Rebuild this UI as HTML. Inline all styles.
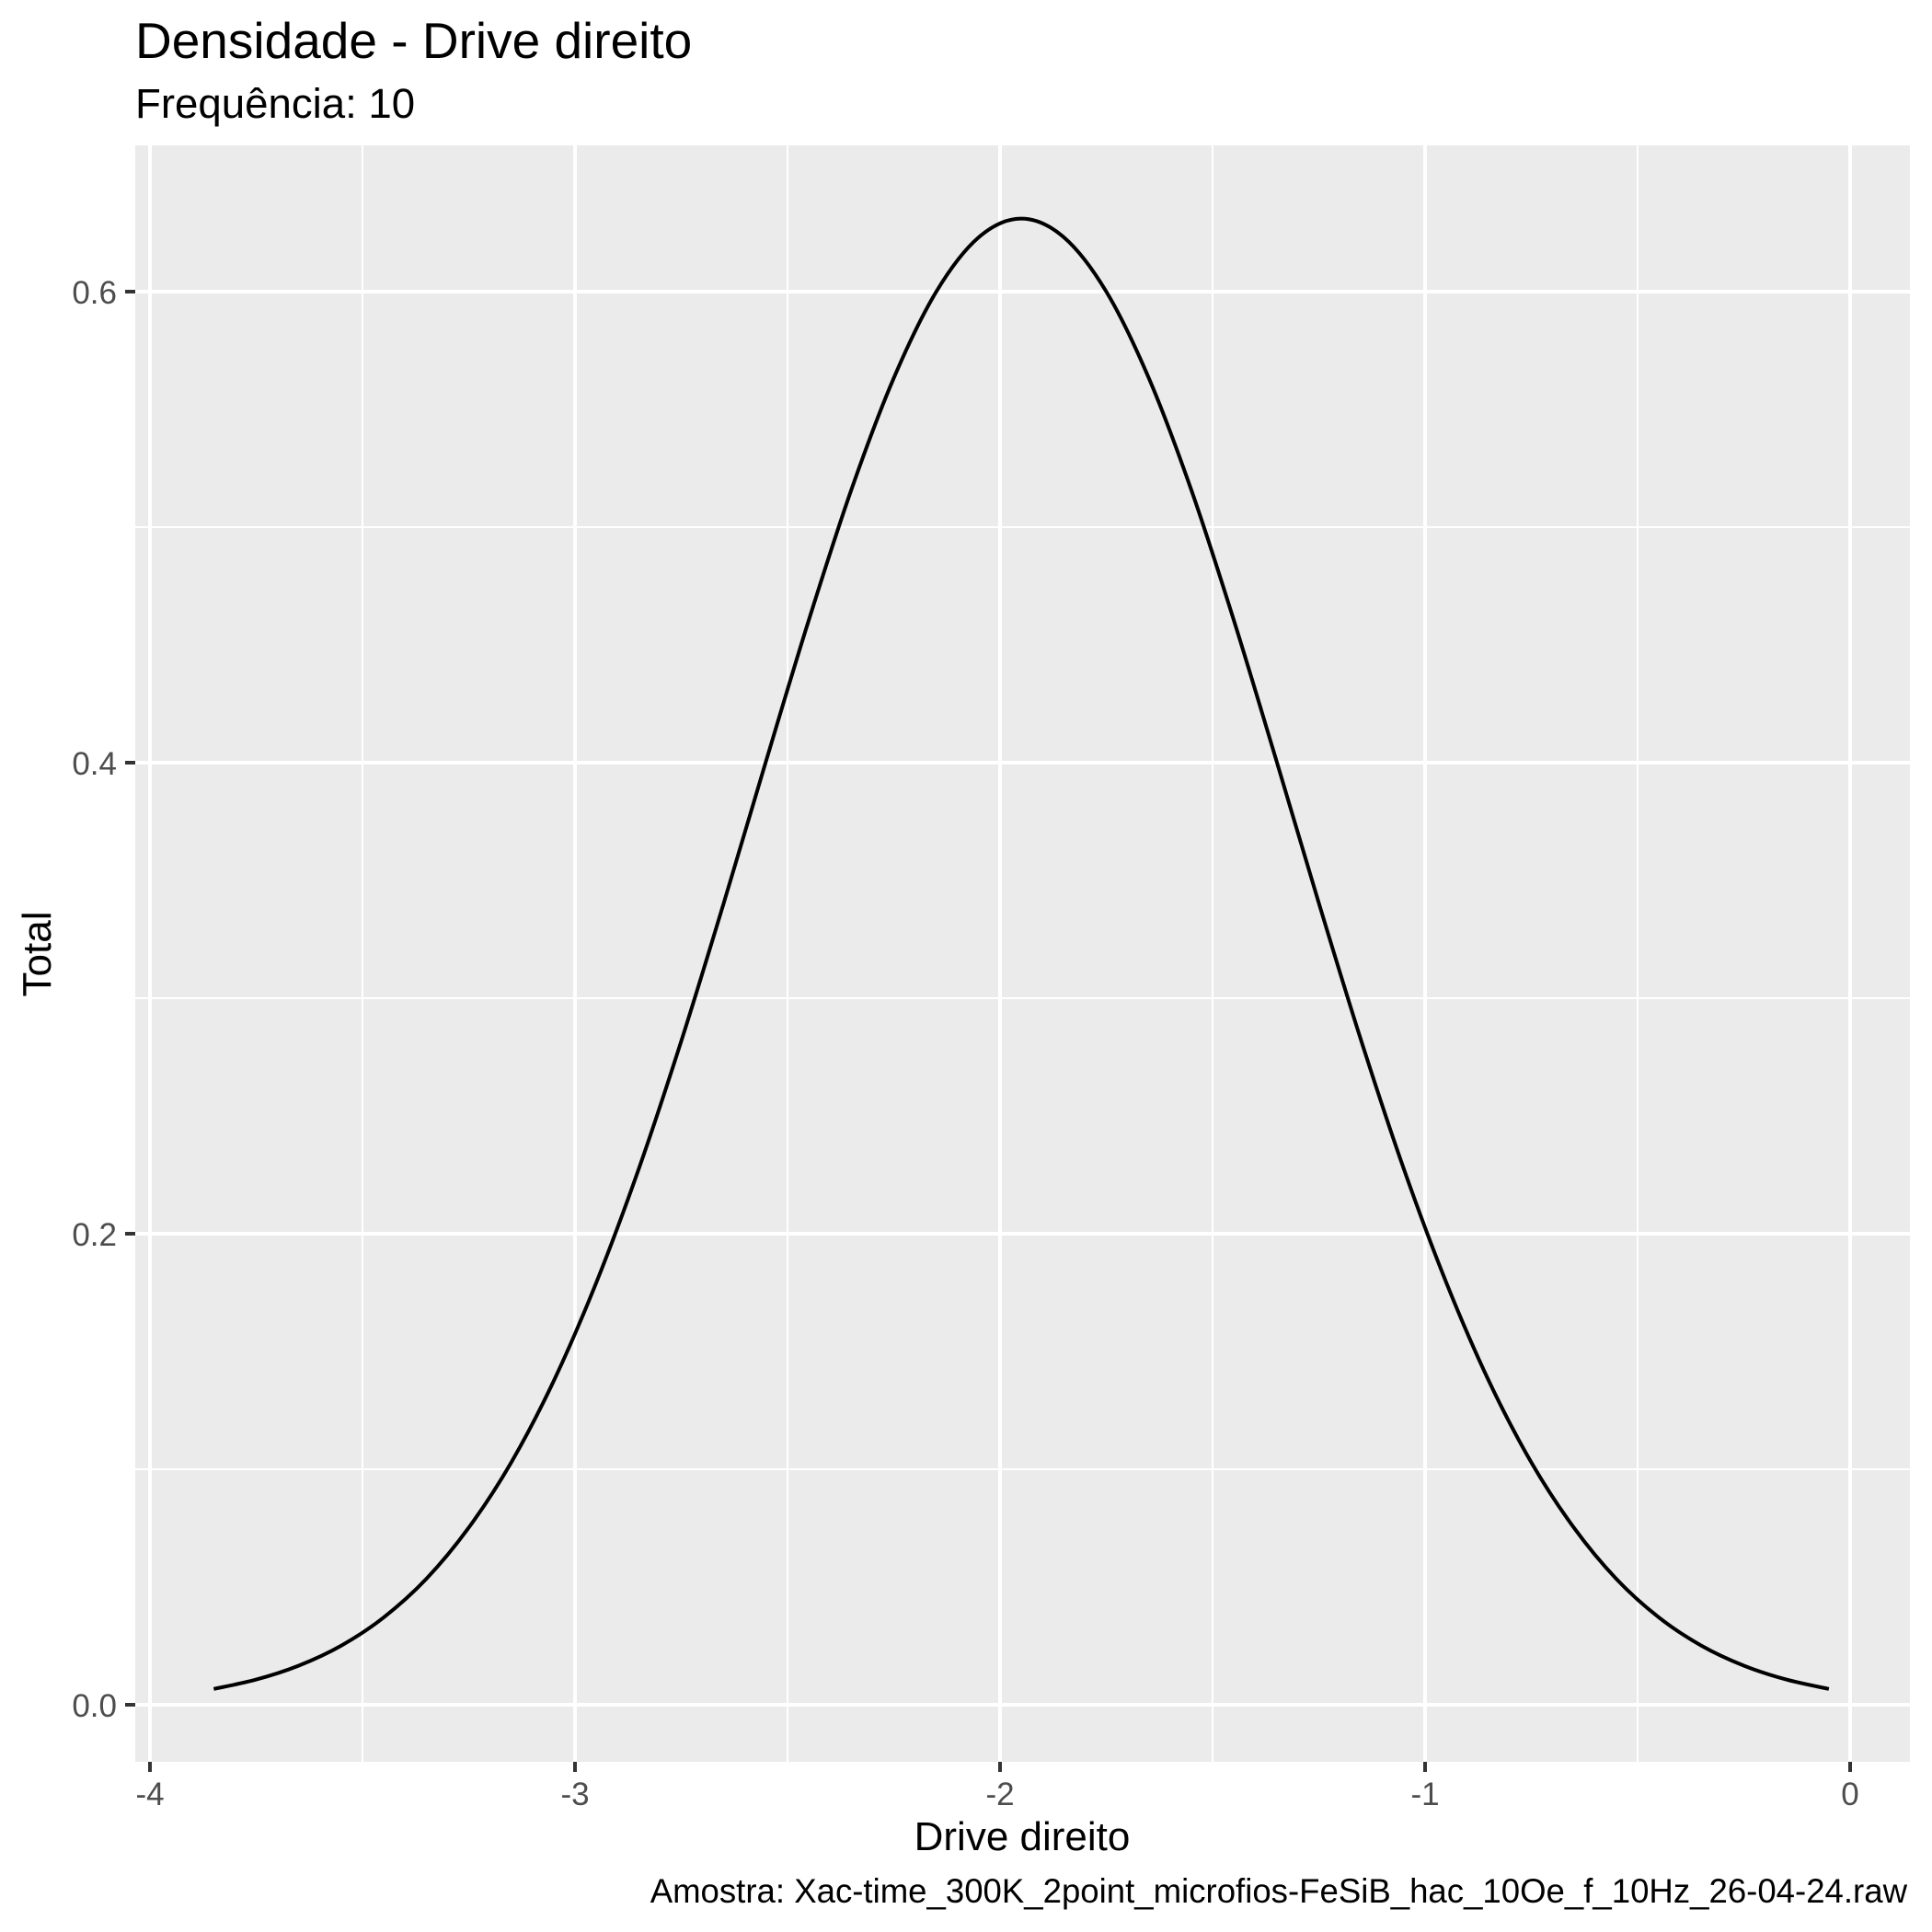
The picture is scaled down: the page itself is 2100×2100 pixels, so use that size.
<!DOCTYPE html>
<html><head><meta charset="utf-8"><style>
html,body{margin:0;padding:0;background:#fff;}
svg{display:block;font-family:"Liberation Sans",Arial,sans-serif;}
</style></head><body>
<svg id="chart" width="2100" height="2100" viewBox="0 0 2100 2100" xmlns="http://www.w3.org/2000/svg">
<rect x="0" y="0" width="2100" height="2100" fill="#fff"/>
<text x="147" y="63" font-size="55" fill="#000">Densidade - Drive direito</text>
<text x="147" y="128" font-size="45.6" fill="#000">Frequência: 10</text>
<rect x="147" y="158" width="1929" height="1757" fill="#EBEBEB"/>
<g id="grid"></g>
<g id="axes"></g>
<path id="curve" fill="none" stroke="#000" stroke-width="4" stroke-linejoin="round"/>
<text x="1111" y="2011" font-size="44" text-anchor="middle" fill="#000">Drive direito</text>
<text x="0" y="0" font-size="44" text-anchor="middle" fill="#000" transform="translate(55,1037) rotate(-90)">Total</text>
<text x="2073" y="2068" font-size="36.6" text-anchor="end" fill="#000">Amostra: Xac-time_300K_2point_microfios-FeSiB_hac_10Oe_f_10Hz_26-04-24.raw</text>
</svg>
<script>
const xValues = [-3.85,-3.75,-3.65,-3.55,-3.45,-3.35,-3.25,-3.15,-3.05,-2.95,-2.85,-2.75,-2.65,-2.55,-2.45,-2.35,-2.25,-2.15,-2.05,-1.95,-1.85,-1.75,-1.65,-1.55,-1.45,-1.35,-1.25,-1.15,-1.05,-0.95,-0.85,-0.75,-0.65,-0.55,-0.45,-0.35,-0.25,-0.15,-0.05];
const yValues = [0.0067,0.0107,0.0166,0.0251,0.0371,0.0534,0.0752,0.1029,0.1375,0.1792,0.2275,0.2818,0.3404,0.4010,0.4605,0.5158,0.5633,0.6000,0.6231,0.631,0.6231,0.6000,0.5633,0.5158,0.4605,0.4010,0.3404,0.2818,0.2275,0.1792,0.1375,0.1029,0.0752,0.0534,0.0371,0.0251,0.0166,0.0107,0.0067];
const xTicks = [-4,-3,-2,-1,0];
const xTickLabels = ["-4","-3","-2","-1","0"];
const xMinor = [-3.5,-2.5,-1.5,-0.5];
const yTicks = [0,0.2,0.4,0.6];
const yTickLabels = ["0.0","0.2","0.4","0.6"];
const yMinor = [0.1,0.3,0.5];

const NS = "http://www.w3.org/2000/svg";
const P = {l:147, r:2076, t:158, b:1915};
function sx(v){ return 163 + (v + 4) * 462; }
function sy(v){ return 1853 - v * 2560; }
function mk(tag, attrs, parent){
  const e = document.createElementNS(NS, tag);
  for (const k in attrs) e.setAttribute(k, attrs[k]);
  parent.appendChild(e);
  return e;
}
const grid = document.getElementById('grid');
const axes = document.getElementById('axes');
yMinor.forEach(v => {
  const l = mk('line', {x1:P.l, x2:P.r, y1:sy(v), y2:sy(v), stroke:'#fff', 'stroke-width':2}, grid);
  
  
});
xMinor.forEach(v => {
  const l = mk('line', {x1:sx(v), x2:sx(v), y1:P.t, y2:P.b, stroke:'#fff', 'stroke-width':2}, grid);
  
  
});
yTicks.forEach((v, i) => {
  const l = mk('line', {x1:P.l, x2:P.r, y1:sy(v), y2:sy(v), stroke:'#fff', 'stroke-width':4}, grid);
  
  
  const t = mk('line', {x1:P.l - 11, x2:P.l, y1:sy(v), y2:sy(v), stroke:'#333', 'stroke-width':4}, axes);
  
  
  const tx = mk('text', {x:P.l - 20, y:sy(v) + 13, 'font-size':35, fill:'#4D4D4D', 'text-anchor':'end'}, axes);
  tx.textContent = yTickLabels[i];
  
  
});
xTicks.forEach((v, i) => {
  const l = mk('line', {x1:sx(v), x2:sx(v), y1:P.t, y2:P.b, stroke:'#fff', 'stroke-width':4}, grid);
  
  
  const t = mk('line', {x1:sx(v), x2:sx(v), y1:P.b, y2:P.b + 11, stroke:'#333', 'stroke-width':4}, axes);
  
  
  const tx = mk('text', {x:sx(v), y:1962, 'font-size':35, fill:'#4D4D4D', 'text-anchor':'middle'}, axes);
  tx.textContent = xTickLabels[i];
  
  
});
const pts = xValues.map((x, i) => [sx(x), sy(yValues[i])]);
let d = 'M' + pts[0][0] + ',' + pts[0][1];
for (let i = 0; i < pts.length - 1; i++) {
  const p0 = pts[Math.max(0, i - 1)], p1 = pts[i], p2 = pts[i + 1], p3 = pts[Math.min(pts.length - 1, i + 2)];
  const c1 = [p1[0] + (p2[0] - p0[0]) / 6, p1[1] + (p2[1] - p0[1]) / 6];
  const c2 = [p2[0] - (p3[0] - p1[0]) / 6, p2[1] - (p3[1] - p1[1]) / 6];
  d += ' C' + c1.join(',') + ' ' + c2.join(',') + ' ' + p2.join(',');
}
document.getElementById('curve').setAttribute('d', d);
</script>
</body></html>
